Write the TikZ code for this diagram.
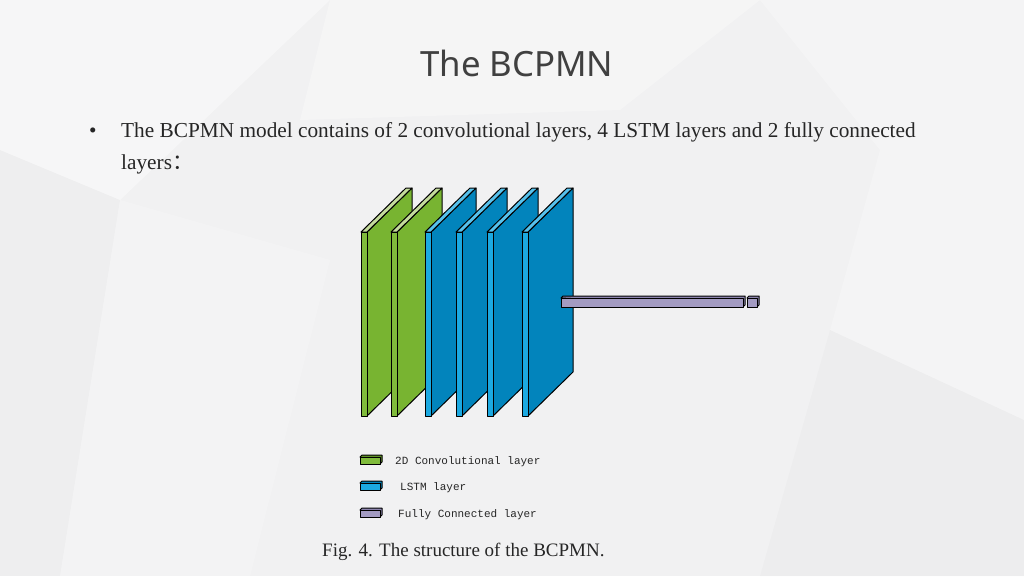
\documentclass[tikz,border=0pt]{standalone}
\usepackage{fontspec}
\setmainfont{Liberation Serif}
\setmonofont{Liberation Mono}
\newfontfamily\titlefont{Noto Sans}
\newfontfamily\cjk{Noto Sans CJK SC}
\usetikzlibrary{positioning}
\definecolor{convedge}{HTML}{80BB3B}
\definecolor{convside}{HTML}{78B431}
\definecolor{convtop}{HTML}{C4DB9C}
\definecolor{lstmedge}{HTML}{1CA9E1}
\definecolor{lstmside}{HTML}{0284BC}
\definecolor{lstmtop}{HTML}{56C1EC}
\definecolor{fcfront}{HTML}{A39BC2}
\definecolor{fcside}{HTML}{8C84AE}
\definecolor{slidebg}{HTML}{F1F1F2}
\tikzstyle{face}=[draw=black,line width=1pt,line join=round]
\tikzstyle{txt}=[inner sep=0pt,anchor=base west,text=black!85]
\tikzstyle{legtxt}=[txt,font=\ttfamily\fontsize{11}{11}\selectfont]
% one layer slab: front edge x, edge, side and top colours
\newcommand{\slab}[4]{
  \draw[face,fill=#3] ({#1+6},232) -- ({#1+51},188) -- ({#1+51},372) -- ({#1+6},416) -- cycle;
  \draw[face,fill=#4] (#1,232) -- ({#1+6},232) -- ({#1+51},188) -- ({#1+45},188) -- cycle;
  \draw[face,fill=#2] (#1,232) rectangle ({#1+6},416);
}
% flat box: x1, y1, x2, y2, front and side colours
\newcommand{\flatbox}[6]{
  \draw[face,fill=#6] (#1,#2) -- ({#1+2},{#2-2}) -- ({#3+2},{#2-2}) -- ({#3+2},{#4-2}) -- (#3,#4) -- cycle;
  \draw[face,fill=#5] (#1,#2) rectangle (#3,#4);
}

\begin{document}
\begin{tikzpicture}[x=1pt,y=-1pt]
  \useasboundingbox (0,0) rectangle (1024,576);
  % background
  \fill[slidebg] (0,0) rectangle (1024,576);
  \fill[white,opacity=.4] (0,0) -- (330,0) -- (120,200) -- (0,150) -- cycle;
  \fill[white,opacity=.3] (330,0) -- (760,0) -- (620,110) -- (300,120) -- cycle;
  \fill[white,opacity=.25] (760,0) -- (1024,0) -- (1024,230) -- (880,150) -- cycle;
  \fill[black,opacity=.012] (0,150) -- (120,200) -- (60,576) -- (0,576) -- cycle;
  \fill[white,opacity=.25] (880,150) -- (1024,230) -- (1024,420) -- (830,330) -- cycle;
  \fill[black,opacity=.015] (830,330) -- (1024,420) -- (1024,576) -- (760,576) -- cycle;
  \fill[white,opacity=.2] (120,200) -- (330,260) -- (250,576) -- (60,576) -- cycle;

  % texts
  \node[txt,font=\titlefont\fontsize{34.8}{34.8}\selectfont,text=black!75] (title) at (420,76) {The BCPMN};
  \node[txt,font=\fontsize{21.3}{21.3}\selectfont] (bullet) at (89,137) {•};
  \node[txt,font=\fontsize{21.3}{21.3}\selectfont] (line1) at (121,137) {The BCPMN model contains of 2 convolutional layers, 4 LSTM layers and 2 fully connected};
  \node[txt,font=\fontsize{21.3}{21.3}\selectfont] (line2) at (121,169) {layers{\cjk ：}};
  \node[txt,font=\fontsize{19}{19}\selectfont] (caption) at (322,556) {Fig. 4. The structure of the BCPMN.};

  % layers
  \foreach \x/\e/\s/\t in {361/convedge/convside/convtop, 391/convedge/convside/convtop,
      425/lstmedge/lstmside/lstmtop, 456/lstmedge/lstmside/lstmtop,
      487/lstmedge/lstmside/lstmtop, 522/lstmedge/lstmside/lstmtop}
    \slab{\x}{\e}{\s}{\t};
  \flatbox{561}{298}{743}{307}{fcfront}{fcside}
  \flatbox{747}{298}{757}{307}{fcfront}{fcside}

  % legend
  \flatbox{360}{457}{380}{464}{convedge}{convside!80!black}
  \flatbox{360}{483}{380}{490}{lstmedge}{lstmside}
  \flatbox{360}{510}{380}{517}{fcfront}{fcside}
  \node[legtxt] (legconv) at (395,464) {2D Convolutional layer};
  \node[legtxt] (leglstm) at (400,490) {LSTM layer};
  \node[legtxt] (legfc) at (398,517) {Fully Connected layer};
\end{tikzpicture}
\end{document}
